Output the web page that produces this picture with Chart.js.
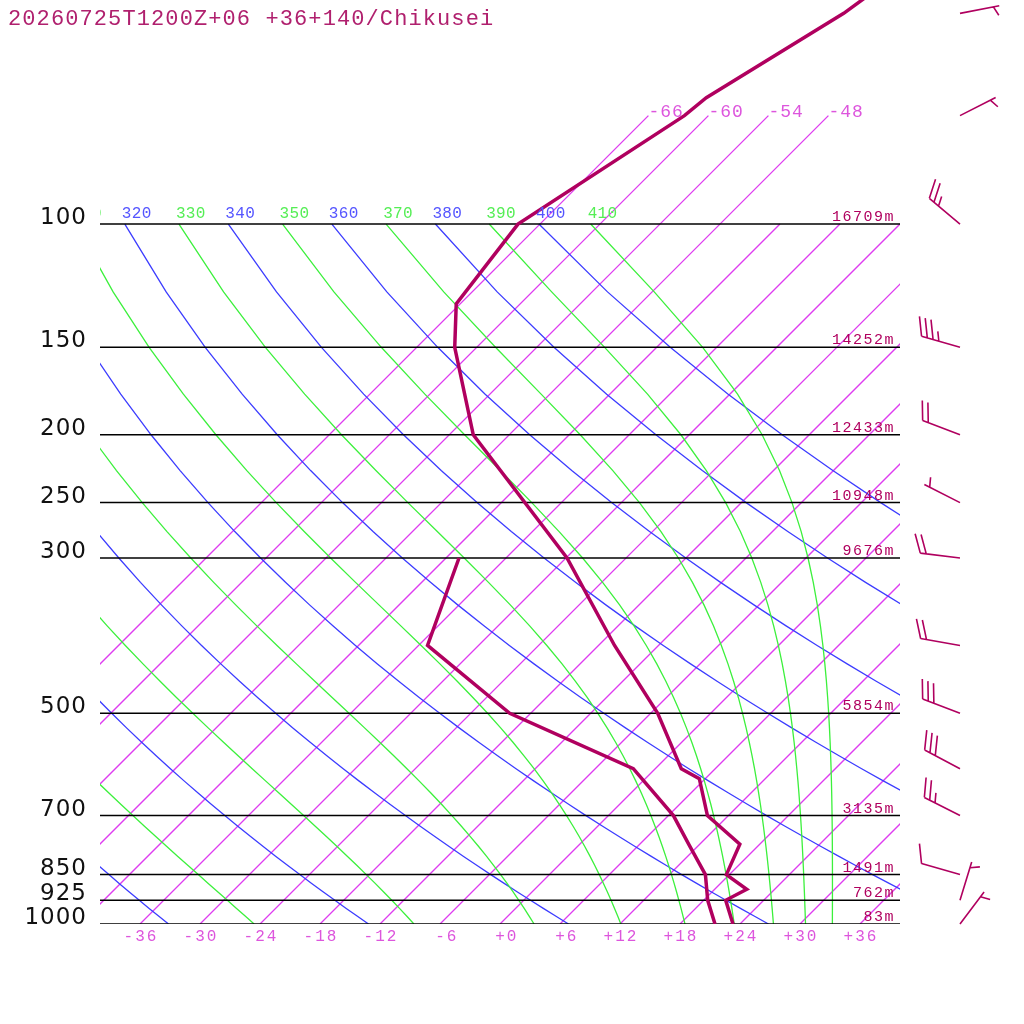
<!DOCTYPE html>
<html>
<head>
<meta charset="utf-8">
<script src="https://cdn.jsdelivr.net/npm/chart.js@4.4.1/dist/chart.umd.min.js"></script>
<style>
html, body { margin: 0; padding: 0; background: #fff; }
#skewt { display: block; }
</style>
</head>
<body>
<canvas id="skewt" width="1024" height="1024"></canvas>
<script>
const title = '20260725T1200Z+06 +36+140/Chikusei';

// temperature profile, hPa / degC
const tempP = [1000, 925, 892, 850, 769, 700, 620, 600, 500, 400, 300, 200, 150, 130, 100, 70, 66, 50, 40];
const tempT = [23.3, 20.2, 21.2, 17.7, 16.0, 9.9, 5.4, 2.6, -5.3, -16.4, -29.9, -51.6, -62.2, -66.4, -68.2, -62.4, -62.0, -56.7, -54.2];

// dewpoint profile
const dewP = [1000, 925, 850, 771, 700, 600, 500, 400, 300];
const dewT = [21.5, 18.4, 15.6, 11.0, 6.5, -2.2, -20.1, -35.1, -40.7];

// isobars with their heights
const levelP = [100, 150, 200, 250, 300, 500, 700, 850, 925, 1000];
const levelZ = ['16709m', '14252m', '12433m', '10948m', '9676m', '5854m', '3135m', '1491m', '762m', '83m'];

// winds: direction (deg from), speed (kt)
const windP = [1000, 925, 850, 700, 600, 500, 400, 300, 250, 200, 150, 100, 70, 50];
const windDir = [37, 17, 286, 297, 298, 291, 280, 277, 297, 291, 286, 310, 63, 79];
const windKt = [5, 5, 10, 25, 30, 30, 20, 20, 5, 20, 35, 25, 5, 5];

// labels
const xTicks = [-36, -30, -24, -18, -12, -6, 0, 6, 12, 18, 24, 30, 36];
const isoLabels = [-66, -60, -54, -48];
const thetaLabels = [310, 320, 330, 340, 350, 360, 370, 380, 390, 400, 410];

const SKEW = 30.4;      // degC per ln(p) unit
const P_TOP = 47.85;
const INK = '#b0005f';
const ISO = 'rgb(222, 60, 240)';
const DRY = 'rgb(60, 60, 255)';
const WET = 'rgb(60, 240, 60)';

function skewX(t, p) {
    return t + SKEW * Math.log(1000 / p);
}

function dryT(theta, p) {
    return theta * Math.pow(p / 1000, 0.286) - 273.15;
}

// Bolton theta-e for saturated air
function thetaE(tk, p) {
    const tc = tk - 273.15;
    const e = 6.112 * Math.exp(17.67 * tc / (tc + 243.5));
    if (e > 0.5 * p) return Infinity;
    const r = 622 * e / (p - e);
    return tk * Math.pow(1000 / p, 0.2854 * (1 - 0.00028 * r)) * Math.exp((3.376 / tk - 0.00254) * r * (1 + 0.00081 * r));
}

function wetT(te, p) {
    let lo = 150, hi = 330;
    for (let i = 0; i < 50; i++) {
        const mid = (lo + hi) / 2;
        if (thetaE(mid, p) > te) hi = mid; else lo = mid;
    }
    return (lo + hi) / 2 - 273.15;
}

function toPoints(ps, ts) {
    return ps.map((p, i) => ({ x: skewX(ts[i], p), y: p }));
}

function drawBarb(ctx, bx, by, dir, kt) {
    const a = dir * Math.PI / 180;
    const sx = Math.sin(a), sy = -Math.cos(a);
    const rot = 68 * Math.PI / 180;
    const vx = sx * Math.cos(rot) - sy * Math.sin(rot);
    const vy = sx * Math.sin(rot) + sy * Math.cos(rot);
    const L = 40, step = 6;
    ctx.beginPath();
    ctx.moveTo(bx, by);
    ctx.lineTo(bx + L * sx, by + L * sy);
    let left = Math.round(kt / 5) * 5;
    let d = L;
    if (left < 10) d -= step;
    while (left >= 10) {
        const ox = bx + d * sx, oy = by + d * sy;
        ctx.moveTo(ox, oy);
        ctx.lineTo(ox + 20 * vx, oy + 20 * vy);
        d -= step;
        left -= 10;
    }
    if (left >= 5) {
        const ox = bx + d * sx, oy = by + d * sy;
        ctx.moveTo(ox, oy);
        ctx.lineTo(ox + 10 * vx, oy + 10 * vy);
    }
    ctx.stroke();
}

function adiabatPressures() {
    const ps = [];
    for (let p = 1000; p >= 100; p -= 25) ps.push(p);
    return ps;
}

const background = {
    id: 'skewtBackground',
    beforeDatasetsDraw(chart) {
        const { ctx, chartArea: a, scales } = chart;
        const px = (t, p) => scales.x.getPixelForValue(skewX(t, p));
        const py = p => scales.y.getPixelForValue(p);
        const ps = adiabatPressures();

        ctx.save();
        ctx.beginPath();
        ctx.rect(a.left, a.top, a.right - a.left, a.bottom - a.top);
        ctx.clip();
        ctx.lineWidth = 1.3;

        // isotherms
        for (let t = -66; t <= 36; t += 6) {
            const top = t <= -48 ? 70 : 100;
            ctx.strokeStyle = ISO;
            ctx.beginPath();
            ctx.moveTo(px(t, 1000), py(1000));
            ctx.lineTo(px(t, top), py(top));
            ctx.stroke();
        }

        // dry adiabats
        for (let th = 240; th <= 400; th += 20) {
            ctx.strokeStyle = DRY;
            ctx.beginPath();
            ps.forEach((p, i) => {
                const X = px(dryT(th, p), p), Y = py(p);
                if (i === 0) ctx.moveTo(X, Y); else ctx.lineTo(X, Y);
            });
            ctx.stroke();
        }

        // saturated adiabats
        for (let te = 250; te <= 410; te += 20) {
            ctx.strokeStyle = WET;
            ctx.beginPath();
            ps.forEach((p, i) => {
                const X = px(wetT(te, p), p), Y = py(p);
                if (i === 0) ctx.moveTo(X, Y); else ctx.lineTo(X, Y);
            });
            ctx.stroke();
        }

        // isobars
        ctx.strokeStyle = '#000';
        ctx.lineWidth = 1.5;
        levelP.forEach(p => {
            ctx.beginPath();
            ctx.moveTo(a.left, py(p));
            ctx.lineTo(a.right, py(p));
            ctx.stroke();
        });
        ctx.restore();
    },
    afterDraw(chart) {
        const { ctx, chartArea: a, scales } = chart;
        const px = (t, p) => scales.x.getPixelForValue(skewX(t, p));
        const py = p => scales.y.getPixelForValue(p);

        ctx.save();
        ctx.textBaseline = 'alphabetic';

        // title
        ctx.font = '22px "Liberation Mono"';
        ctx.letterSpacing = '1.1px';
        ctx.fillStyle = '#b0206e';
        ctx.textAlign = 'left';
        ctx.fillText(title, 8, 25);

        // pressure labels
        ctx.font = '23px "DejaVu Sans"';
        ctx.letterSpacing = '1px';
        ctx.fillStyle = '#111';
        ctx.textAlign = 'right';
        levelP.forEach(p => ctx.fillText(String(p), 87, py(p)));

        // heights
        ctx.font = '15px "Liberation Mono"';
        ctx.letterSpacing = '1.5px';
        ctx.fillStyle = INK;
        levelP.forEach((p, i) => ctx.fillText(levelZ[i], a.right - 5, py(p) - 3));

        // temperature ticks along the bottom
        ctx.font = '16px "Liberation Mono"';
        ctx.letterSpacing = '2px';
        ctx.fillStyle = '#dd55dd';
        ctx.textAlign = 'center';
        ctx.textBaseline = 'middle';
        xTicks.forEach(t => {
            const s = (t < 0 ? '-' : '+') + Math.abs(t);
            ctx.fillText(s.padStart(3, ' '), px(t, 1000) + 1, a.bottom + 13);
        });

        // isotherm labels
        ctx.font = '18px "Liberation Mono"';
        ctx.letterSpacing = '1px';
        ctx.textAlign = 'left';
        ctx.textBaseline = 'alphabetic';
        isoLabels.forEach(t => ctx.fillText(String(t), px(t, 70), py(70) + 1));

        // theta labels on the 100 hPa line
        ctx.save();
        ctx.beginPath();
        ctx.rect(a.left, 0, a.right - a.left, a.bottom);
        ctx.clip();
        ctx.font = '16px "Liberation Mono"';
        ctx.letterSpacing = '0.3px';
        thetaLabels.forEach(v => {
            const dry = v % 20 === 0;
            const t = dry ? dryT(v, 100) : wetT(v, 100);
            ctx.fillStyle = dry ? '#5555ff' : '#55ee55';
            ctx.fillText(String(v), px(t, 100) - 3, py(100) - 6);
        });
        ctx.restore();

        // wind barbs
        ctx.strokeStyle = INK;
        ctx.lineWidth = 1.6;
        windP.forEach((p, i) => drawBarb(ctx, a.right + 60, py(p), windDir[i], windKt[i]));
        ctx.restore();
    }
};

new Chart(document.getElementById('skewt'), {
    type: 'scatter',
    data: {
        datasets: [
            {
                label: 'temperature',
                data: toPoints(tempP, tempT),
                showLine: true,
                borderColor: INK,
                borderWidth: 3.5,
                pointRadius: 0,
                tension: 0
            },
            {
                label: 'dewpoint',
                data: toPoints(dewP, dewT),
                showLine: true,
                borderColor: INK,
                borderWidth: 3.5,
                pointRadius: 0,
                tension: 0
            }
        ]
    },
    options: {
        responsive: false,
        animation: false,
        layout: { padding: { left: 100, right: 124, top: 0, bottom: 100 } },
        plugins: {
            legend: { display: false },
            tooltip: { enabled: false }
        },
        scales: {
            x: { type: 'linear', min: -40, max: 40, display: false },
            y: { type: 'logarithmic', min: P_TOP, max: 1000, reverse: true, display: false }
        }
    },
    plugins: [background]
});
</script>
</body>
</html>
